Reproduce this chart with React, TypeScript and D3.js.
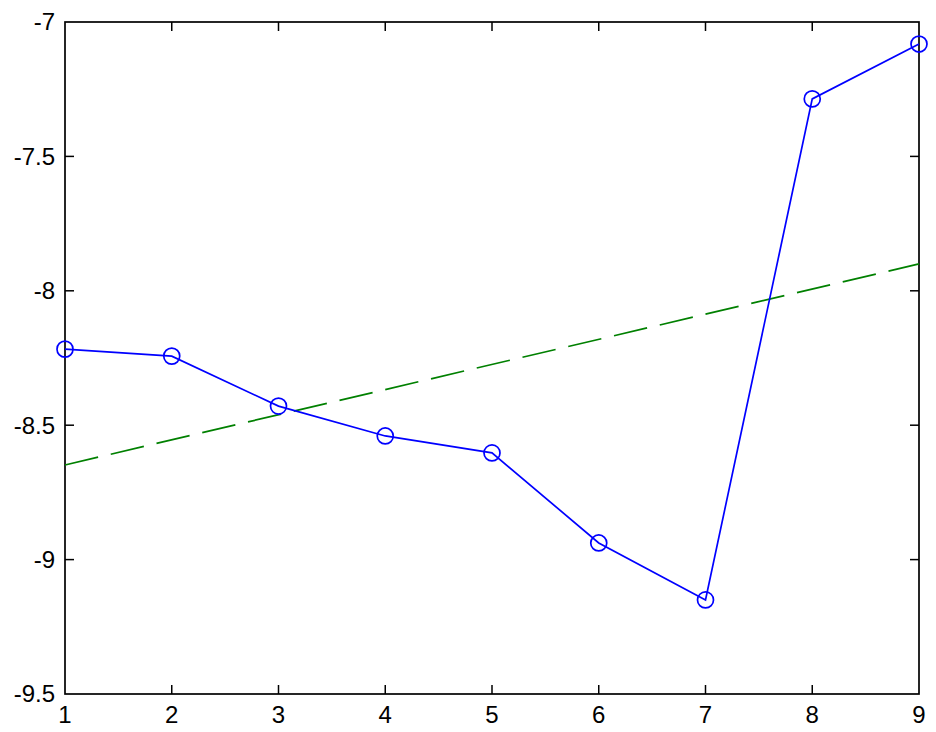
import { useEffect, useRef } from "react";
import * as d3 from "d3";

const xs = [1, 2, 3, 4, 5, 6, 7, 8, 9];
const ys = [-8.217, -8.243, -8.429, -8.54, -8.603, -8.938, -9.15, -7.286, -7.082];
// fitted trend line end points
const trendX = [1, 9];
const trendY = [-8.648, -7.9];
const xTicks = [1, 2, 3, 4, 5, 6, 7, 8, 9];
const yTicks = [-9.5, -9, -8.5, -8, -7.5, -7];

const W = 936;
const H = 732;
const M = { left: 65, right: 17, top: 22, bottom: 38 };

export default function App() {
  const svgRef = useRef<SVGSVGElement>(null);

  useEffect(() => {
    const svg = d3.select(svgRef.current);
    svg.selectAll("*").remove();

    const x = d3.scaleLinear().domain([1, 9]).range([M.left, W - M.right]);
    const y = d3.scaleLinear().domain([-9.5, -7]).range([H - M.bottom, M.top]);
    const font = "'Liberation Sans', Arial, sans-serif";

    svg.append("rect")
      .attr("x", M.left).attr("y", M.top)
      .attr("width", W - M.left - M.right)
      .attr("height", H - M.top - M.bottom)
      .attr("fill", "white")
      .attr("stroke", "black")
      .attr("stroke-width", 1.7);

    const tickLen = 9;
    const g = svg.append("g").attr("stroke", "black").attr("stroke-width", 1.5);
    xTicks.slice(1, -1).forEach((t) => {
      g.append("line").attr("x1", x(t)).attr("x2", x(t)).attr("y1", y(-9.5)).attr("y2", y(-9.5) - tickLen);
      g.append("line").attr("x1", x(t)).attr("x2", x(t)).attr("y1", y(-7)).attr("y2", y(-7) + tickLen);
    });
    yTicks.slice(1, -1).forEach((t) => {
      g.append("line").attr("x1", x(1)).attr("x2", x(1) + tickLen).attr("y1", y(t)).attr("y2", y(t));
      g.append("line").attr("x1", x(9)).attr("x2", x(9) - tickLen).attr("y1", y(t)).attr("y2", y(t));
    });

    svg.append("g").selectAll("text").data(xTicks).join("text")
      .attr("x", (d) => x(d)).attr("y", H - M.bottom + 29)
      .attr("text-anchor", "middle")
      .attr("font-family", font).attr("font-size", 24)
      .text((d) => String(d));

    svg.append("g").selectAll("text").data(yTicks).join("text")
      .attr("x", M.left - 10).attr("y", (d) => y(d))
      .attr("dy", "0.35em")
      .attr("text-anchor", "end")
      .attr("font-family", font).attr("font-size", 24)
      .text((d) => String(d));

    // green dashed trend
    const line = d3.line<number>().x((d) => x(d[0])).y((d) => y(d[1]));
    svg.append("path")
      .datum(trendX.map((v, i) => [v, trendY[i]]))
      .attr("d", line as any)
      .attr("fill", "none")
      .attr("stroke", "#008000")
      .attr("stroke-width", 1.7)
      .attr("stroke-dasharray", "34,13");

    // blue data line
    svg.append("path")
      .datum(xs.map((v, i) => [v, ys[i]]))
      .attr("d", line as any)
      .attr("fill", "none")
      .attr("stroke", "#0000ff")
      .attr("stroke-width", 1.7);

    svg.append("g").selectAll("circle").data(xs).join("circle")
      .attr("cx", (d) => x(d)).attr("cy", (_, i) => y(ys[i]))
      .attr("r", 8)
      .attr("fill", "none")
      .attr("stroke", "#0000ff")
      .attr("stroke-width", 1.7);
  }, []);

  return (
    <svg
      ref={svgRef}
      width={W}
      height={H}
      style={{ position: "absolute", left: 0, top: 0, background: "white" }}
    />
  );
}
